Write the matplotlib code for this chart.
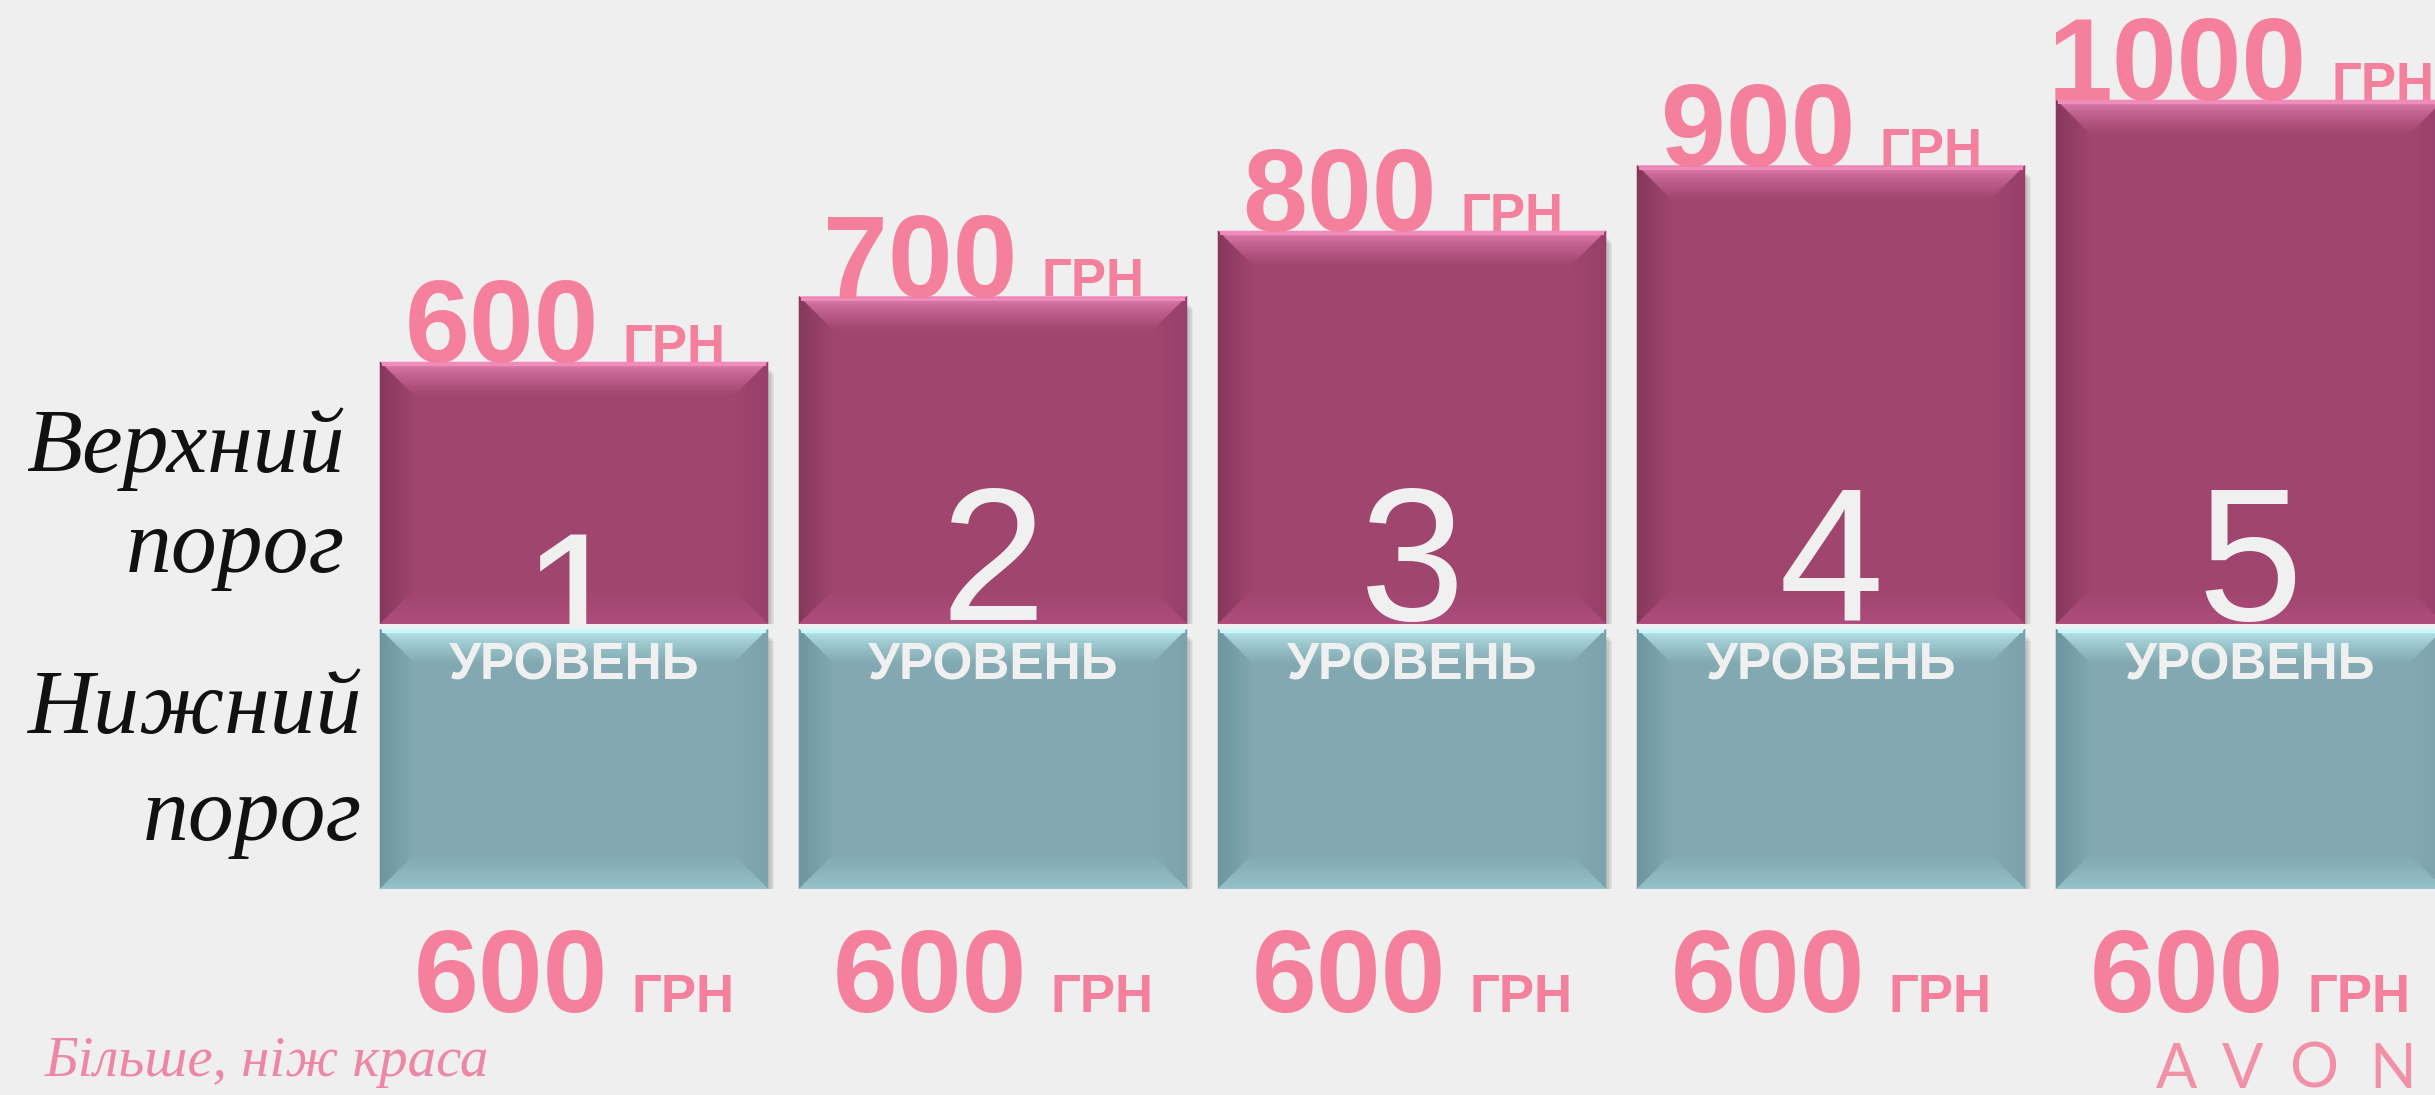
import matplotlib
matplotlib.use('Agg')
import matplotlib.pyplot as plt
import matplotlib.colors as mcolors
import numpy as np
from matplotlib.collections import PolyCollection
from matplotlib.patches import Rectangle
from matplotlib.transforms import IdentityTransform, offset_copy

# ---------------- data ----------------
levels = ['1', '2', '3', '4', '5']
upper = [600, 700, 800, 900, 1000]      # верхний порог, грн
lower = [600, 600, 600, 600, 600]       # нижний порог, грн
currency = 'ГРН'
level_word = 'УРОВЕНЬ'
upper_label = ['Верхний', 'порог']
lower_label = ['Нижний', 'порог']
slogan = 'Більше, ніж краса'
brand = 'AVON'

# ---------------- style ----------------
W, H = 2435, 1095
BG = '#efefef'
PINK_TXT = '#f4809e'
PINK = '#a0456e'
PINK_TOP = '#f08cbc'
PINK_LEFT = '#86375c'
PINK_RIGHT = '#98406a'
PINK_BOT = '#b04e7e'
TEAL = '#82a9b1'
TEAL_TOP = '#c6f8fc'
TEAL_LEFT = '#6c959d'
TEAL_RIGHT = '#7ca3ab'
TEAL_BOT = '#98c4cc'
WHITE = '#f0f0f0'
SANS = 'Liberation Sans'

fig = plt.figure(figsize=(W / 100, H / 100), dpi=100)
fig.patch.set_facecolor(BG)

x = np.arange(len(levels))
c0, step = 574.0, 419.0
xlim = (-c0 / step, (W - c0) / step)
bar_w = 0.926

# pink (upper threshold) axes: truncated axis starting at 200
pink_bottom_px, pink_top_y_px = 624.0, 100.0
ymax = 200 + 800 * pink_bottom_px / (pink_bottom_px - pink_top_y_px)
ax_u = fig.add_axes([0, (H - pink_bottom_px) / H, 1, pink_bottom_px / H])
ax_u.set_xlim(*xlim)
ax_u.set_ylim(200, ymax)
ax_u.axis('off')

# teal (lower threshold) axes
teal_top_px, teal_bot_px = 629.0, 889.0
ax_l = fig.add_axes([0, (H - teal_bot_px) / H, 1, (teal_bot_px - teal_top_px) / H])
ax_l.set_xlim(*xlim)
ax_l.set_ylim(0, 600)
ax_l.axis('off')

bars_u = ax_u.bar(x, upper, width=bar_w, color=PINK, zorder=2)
bars_l = ax_l.bar(x, lower, width=bar_w, color=TEAL, zorder=2)

renderer = fig.canvas.get_renderer()


def lerp(c1, c2, t):
    a = np.array(mcolors.to_rgb(c1))
    b = np.array(mcolors.to_rgb(c2))
    return tuple(np.clip(a + (b - a) * t, 0, 1))


def bevel(ax, ext, base, top_c, left_c, right_c, bot_c, b=36, n=28):
    x0, y0, x1, y1 = ext
    polys, cols = [], []
    for i in range(n):
        da, db = b * i / n, b * (i + 1) / n
        t = i / (n - 1)
        polys.append([(x0 + da, y1 - da), (x1 - da, y1 - da), (x1 - db, y1 - db), (x0 + db, y1 - db)])
        cols.append(lerp(top_c, base, min(1, t ** 0.6)))
        polys.append([(x0 + da, y0 + da), (x0 + da, y1 - da), (x0 + db, y1 - db), (x0 + db, y0 + db)])
        cols.append(lerp(left_c, base, t))
        polys.append([(x1 - da, y0 + da), (x1 - da, y1 - da), (x1 - db, y1 - db), (x1 - db, y0 + db)])
        cols.append(lerp(right_c, base, t))
        polys.append([(x0 + da, y0 + da), (x1 - da, y0 + da), (x1 - db, y0 + db), (x0 + db, y0 + db)])
        cols.append(lerp(bot_c, base, t ** 0.8))
    pc = PolyCollection(polys, facecolors=cols, edgecolors=cols, linewidths=0.4,
                        transform=IdentityTransform(), zorder=3)
    ax.add_collection(pc, autolim=False)
    ax.add_patch(Rectangle((x0 + 2, y1 - 4), x1 - x0 - 4, 3, color=top_c, lw=0,
                           transform=IdentityTransform(), zorder=3.5))


def shadow(ax, ext):
    x0, y0, x1, y1 = ext
    for k, a in enumerate([0.05, 0.06, 0.08]):
        g = 6 - 2 * k
        ax.add_patch(Rectangle((x0 + 2 - g * 0.3, y0 - 6 - g), x1 - x0 + g, y1 - y0, color='k',
                               alpha=a, lw=0, transform=IdentityTransform(), zorder=1))


def visible_extent(ax, patch):
    e = patch.get_window_extent(renderer)
    bb = ax.bbox
    return (e.x0, max(e.y0, bb.y0), e.x1, min(e.y1, bb.y1))


for p in bars_u:
    ext = visible_extent(ax_u, p)
    shadow(ax_u, ext)
    bevel(ax_u, ext, PINK, PINK_TOP, PINK_LEFT, PINK_RIGHT, PINK_BOT)
for p in bars_l:
    ext = visible_extent(ax_l, p)
    shadow(ax_l, ext)
    bevel(ax_l, ext, TEAL, TEAL_TOP, TEAL_LEFT, TEAL_RIGHT, TEAL_BOT)


def composite(ax, xc, y, num, dy, dx=0, gap=24):
    t1 = ax.text(xc, y, num, fontsize=84, fontweight='bold', family=SANS, color=PINK_TXT,
                 ha='left', va='baseline', zorder=5)
    t2 = ax.text(xc, y, currency, fontsize=38, fontweight='bold', family=SANS, color=PINK_TXT,
                 ha='left', va='baseline', zorder=5)
    w1 = t1.get_window_extent(renderer).width
    w2 = t2.get_window_extent(renderer).width
    start = -(w1 + gap + w2) / 2 + dx
    t1.set_transform(offset_copy(ax.transData, fig=fig, x=start, y=dy, units='dots'))
    t2.set_transform(offset_copy(ax.transData, fig=fig, x=start + w1 + gap, y=dy, units='dots'))


digit_drop = [45, 0, 0, 0, 0]
for i in range(len(levels)):
    composite(ax_u, x[i], upper[i], str(upper[i]), dy=0, dx=-9)
    composite(ax_l, x[i], 0, str(lower[i]), dy=-123, dx=0)
    ax_u.text(x[i], 200, levels[i], fontsize=136, family=SANS, color=WHITE, ha='center',
              va='baseline', zorder=6, clip_on=False,
              transform=offset_copy(ax_u.transData, fig=fig, x=0, y=4 - digit_drop[i], units='dots'))
    ax_l.text(x[i], lower[i], level_word, fontsize=37, fontweight='bold', family=SANS, color=WHITE,
              ha='center', va='baseline', zorder=7,
              transform=offset_copy(ax_l.transData, fig=fig, x=0, y=-50, units='dots'))


def ftext(px, py, s, **kw):
    fig.text(px / W, 1 - py / H, s, **kw)


script_kw = dict(family='Liberation Serif', style='italic', color='#111111', ha='right', va='baseline')
ftext(345, 472, upper_label[0], fontsize=66, **script_kw)
ftext(345, 572, upper_label[1], fontsize=66, **script_kw)
ftext(362, 733, lower_label[0], fontsize=66, **script_kw)
ftext(362, 840, lower_label[1], fontsize=66, **script_kw)

ftext(45, 1076, slogan, fontsize=41, family='Liberation Serif', style='italic',
      color='#ec88a6', ha='left', va='baseline')

for ch, cx in zip(brand, [2176, 2243, 2314, 2393]):
    ftext(cx, 1088, ch, fontsize=44, family='Lato', fontweight='normal', color='#f290a8',
          ha='center', va='baseline')

fig.savefig('out.png', dpi=100, facecolor=BG)
